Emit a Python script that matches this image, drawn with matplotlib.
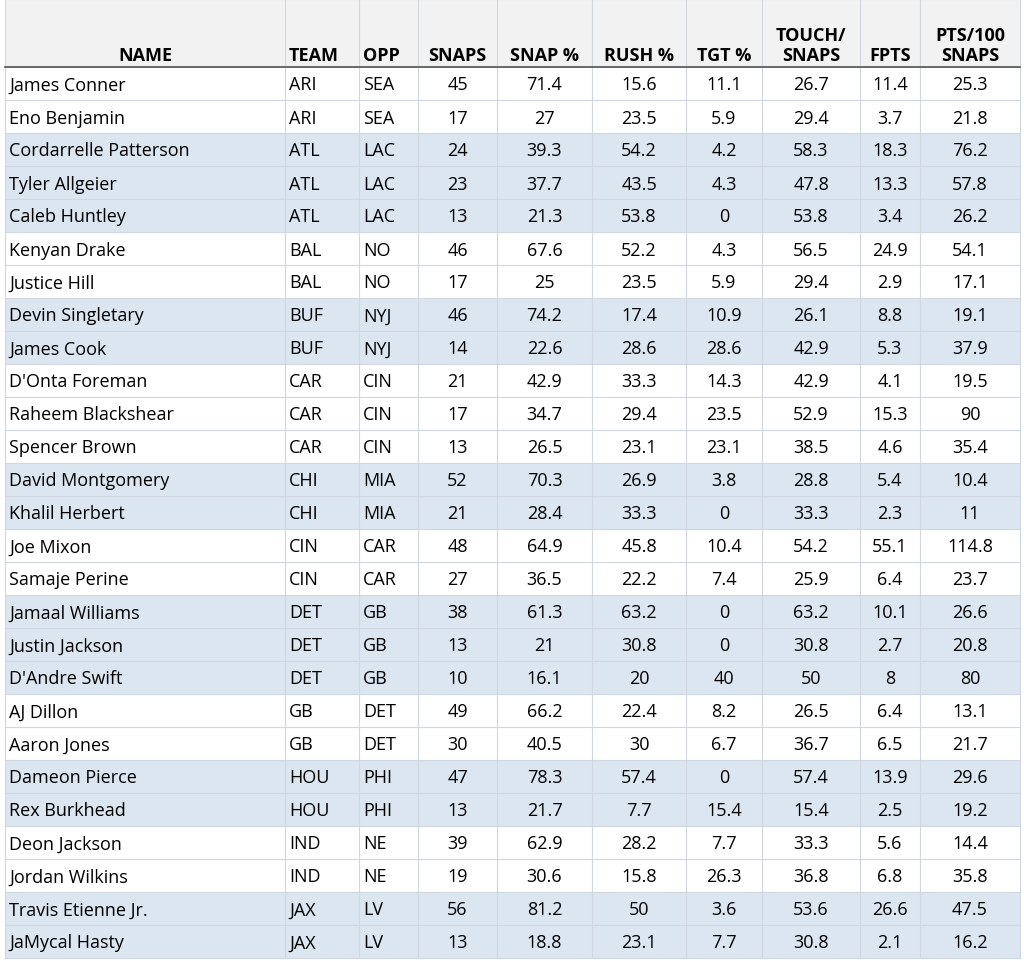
import matplotlib
matplotlib.use("Agg")
import matplotlib.pyplot as plt
from matplotlib.patches import Rectangle

names = ["James Conner","Eno Benjamin","Cordarrelle Patterson","Tyler Allgeier","Caleb Huntley",
 "Kenyan Drake","Justice Hill","Devin Singletary","James Cook","D'Onta Foreman","Raheem Blackshear",
 "Spencer Brown","David Montgomery","Khalil Herbert","Joe Mixon","Samaje Perine","Jamaal Williams",
 "Justin Jackson","D'Andre Swift","AJ Dillon","Aaron Jones","Dameon Pierce","Rex Burkhead",
 "Deon Jackson","Jordan Wilkins","Travis Etienne Jr.","JaMycal Hasty"]
teams = ["ARI","ARI","ATL","ATL","ATL","BAL","BAL","BUF","BUF","CAR","CAR","CAR","CHI","CHI",
 "CIN","CIN","DET","DET","DET","GB","GB","HOU","HOU","IND","IND","JAX","JAX"]
opps = ["SEA","SEA","LAC","LAC","LAC","NO","NO","NYJ","NYJ","CIN","CIN","CIN","MIA","MIA",
 "CAR","CAR","GB","GB","GB","DET","DET","PHI","PHI","NE","NE","LV","LV"]
snaps = ["45","17","24","23","13","46","17","46","14","21","17","13","52","21","48","27","38","13","10","49","30","47","13","39","19","56","13"]
snap_pct = ["71.4","27","39.3","37.7","21.3","67.6","25","74.2","22.6","42.9","34.7","26.5","70.3","28.4","64.9","36.5","61.3","21","16.1","66.2","40.5","78.3","21.7","62.9","30.6","81.2","18.8"]
rush_pct = ["15.6","23.5","54.2","43.5","53.8","52.2","23.5","17.4","28.6","33.3","29.4","23.1","26.9","33.3","45.8","22.2","63.2","30.8","20","22.4","30","57.4","7.7","28.2","15.8","50","23.1"]
tgt_pct = ["11.1","5.9","4.2","4.3","0","4.3","5.9","10.9","28.6","14.3","23.5","23.1","3.8","0","10.4","7.4","0","0","40","8.2","6.7","0","15.4","7.7","26.3","3.6","7.7"]
touch = ["26.7","29.4","58.3","47.8","53.8","56.5","29.4","26.1","42.9","42.9","52.9","38.5","28.8","33.3","54.2","25.9","63.2","30.8","50","26.5","36.7","57.4","15.4","33.3","36.8","53.6","30.8"]
fpts = ["11.4","3.7","18.3","13.3","3.4","24.9","2.9","8.8","5.3","4.1","15.3","4.6","5.4","2.3","55.1","6.4","10.1","2.7","8","6.4","6.5","13.9","2.5","5.6","6.8","26.6","2.1"]
pts100 = ["25.3","21.8","76.2","57.8","26.2","54.1","17.1","19.1","37.9","19.5","90","35.4","10.4","11","114.8","23.7","26.6","20.8","80","13.1","21.7","29.6","19.2","14.4","35.8","47.5","16.2"]
headers = ["NAME","TEAM","OPP","SNAPS","SNAP %","RUSH %","TGT %","TOUCH/\nSNAPS","FPTS","PTS/100\nSNAPS"]

cols = [names, teams, opps, snaps, snap_pct, rush_pct, tgt_pct, touch, fpts, pts100]
edges = [5,285,359,418,497,592,686,762,860,920,1020]
aligns = ["left","left","left"] + ["center"]*7
hdr_aligns = ["center","left","left"] + ["center"]*7

fig = plt.figure(figsize=(10.24,9.62), dpi=100)
ax = fig.add_axes([0,0,1,1])
ax.set_xlim(0,1024); ax.set_ylim(962,0); ax.axis("off")
font = "Open Sans"
fs = 13
H0 = 68; RH = 33
grid = "#d0d7e0"
ax.add_patch(Rectangle((edges[0],0),edges[-1]-edges[0],H0,facecolor="#f2f2f2",edgecolor="none"))
prev=None; band=-1
for i in range(len(names)):
    if teams[i]!=prev:
        band+=1; prev=teams[i]
    fc = "#dce6f1" if band%2 else "white"
    y = H0+i*RH
    ax.add_patch(Rectangle((edges[0],y),edges[-1]-edges[0],RH,facecolor=fc,edgecolor="none"))
    for j,col in enumerate(cols):
        x = edges[j]+4 if aligns[j]=="left" else (edges[j]+edges[j+1])/2
        ax.text(x,y+RH/2+1,col[i],ha=aligns[j],va="center",fontsize=fs,family=font,color="black")
for j,h in enumerate(headers):
    x = edges[j]+4 if hdr_aligns[j]=="left" else (edges[j]+edges[j+1])/2
    ax.text(x,H0-3,h,ha=hdr_aligns[j],va="bottom",fontsize=fs,family=font,fontweight="bold",linespacing=1.15)
ytot = H0+len(names)*RH
for e in edges:
    ax.plot([e,e],[0,ytot],color=grid,lw=0.8)
for i in range(len(names)+1):
    ax.plot([edges[0],edges[-1]],[H0+i*RH]*2,color=grid,lw=0.8)
ax.plot([edges[0],edges[-1]],[0,0],color=grid,lw=0.8)
ax.plot([edges[0],edges[-1]],[H0,H0],color="#555555",lw=1.2)
fig.savefig("out.png",dpi=100)
